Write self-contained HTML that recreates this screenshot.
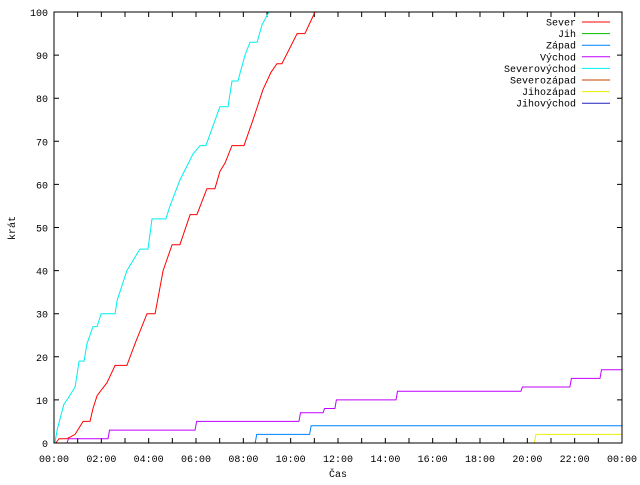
<!DOCTYPE html>
<html><head><meta charset="utf-8"><style>
body{margin:0;background:#fff}
svg text{font-family:"Liberation Mono","DejaVu Sans Mono",monospace;font-size:10px;fill:#000}
</style></head><body>
<svg id="c" width="640" height="480" xmlns="http://www.w3.org/2000/svg">
<rect width="640" height="480" fill="#fff"/>
<g id="ticks"></g>
<g id="series"></g>
<rect x="54" y="12" width="568" height="431" fill="none" stroke="#000" stroke-width="1"/>
<text x="15" y="228" transform="rotate(-90 15 228)" text-anchor="middle">krát</text>
<text x="338" y="477" text-anchor="middle">Čas</text>
<g id="legend"></g>
</svg>
<script>
const seriesNames=["Sever","Jih","Západ","Východ","Severovýchod","Severozápad","Jihozápad","Jihovýchod"];
const seriesColors=["#ff0000","#00c000","#0080ff","#c000ff","#00eeee","#c04000","#eeee00","#2020c0"];
const xTickLabels=["00:00","02:00","04:00","06:00","08:00","10:00","12:00","14:00","16:00","18:00","20:00","22:00","00:00"];
const yTicks=[0,10,20,30,40,50,60,70,80,90,100];
// Sever (polyline, hours/values)
const severHours=[0.08,0.21,0.55,0.89,1.23,1.52,1.65,1.82,2.24,2.58,3.08,3.42,3.93,4.27,4.61,4.99,5.32,5.75,6.04,6.46,6.80,7.01,7.23,7.52,8.03,8.41,8.83,9.17,9.42,9.63,10.27,10.60,11.03];
const severValues=[0,1,1,2,5,5,8,11,14,18,18,23,30,30,40,46,46,53,53,59,59,63,65,69,69,75,82,86,88,88,95,95,100];
// Severovýchod
const svHours=[0.04,0.13,0.42,0.55,0.89,1.06,1.27,1.39,1.65,1.82,1.99,2.58,2.66,3.08,3.63,3.97,4.14,4.73,4.9,5.32,5.87,6.17,6.42,7.01,7.35,7.52,7.77,8.07,8.28,8.58,8.79,9.08];
const svValues=[0,3,9,10,13,19,19,23,27,27,30,30,33,40,45,45,52,52,55,61,67,69,69,78,78,84,84,90,93,93,97,100];
// step series
const vychodHours=[0.55,2.28,5.96,10.35,11.37,11.87,14.45,19.73,21.8,23.07];
const vychodValues=[1,3,5,7,8,10,12,13,15,17];
const zapadHours=[8.5,10.8];
const zapadValues=[2,4];
const jihozapadHours=[20.3];
const jihozapadValues=[2];

const X0=54,X1=622,Y0=443,Y1=12;
const xs=h=>X0+(X1-X0)*h/24;
const ys=v=>Y0-(Y0-Y1)*v/100;
const NS="http://www.w3.org/2000/svg";
function mk(t,a){const e=document.createElementNS(NS,t);for(const k in a)e.setAttribute(k,a[k]);return e;}
const tg=document.getElementById('ticks');
for(let h=0;h<=24;h++){
  const l=mk('path',{d:`M${xs(h)},${Y0}v-5M${xs(h)},${Y1}v5`,stroke:'#000'});
  
  
  tg.appendChild(l);
}
xTickLabels.forEach((s,i)=>{
  const t=mk('text',{x:xs(i*2),y:462,'text-anchor':'middle'});t.textContent=s;
  
  
  tg.appendChild(t);
});
yTicks.forEach(v=>{
  const l=mk('path',{d:`M${X0},${ys(v)}h5M${X1},${ys(v)}h-5`,stroke:'#000'});
  
  
  tg.appendChild(l);
  const t=mk('text',{x:48,y:ys(v)+4,'text-anchor':'end'});t.textContent=v;
  
  
  tg.appendChild(t);
});
const sg=document.getElementById('series');
function poly(hs,vs,color,name){
  const d=hs.map((h,i)=>(i?'L':'M')+xs(h).toFixed(1)+','+ys(vs[i]).toFixed(1)).join('');
  const p=mk('path',{d:d,fill:'none',stroke:color,'stroke-width':1});
  
  
  sg.appendChild(p);
}
function step(hs,vs,color,name){
  let d=`M${xs(hs[0]).toFixed(1)},${ys(0)}`;let prev=0;
  hs.forEach((h,i)=>{d+=`L${xs(h).toFixed(1)},${ys(prev).toFixed(1)}L${(xs(h)+1.5).toFixed(1)},${ys(vs[i]).toFixed(1)}`;prev=vs[i];});
  d+=`L${X1},${ys(prev).toFixed(1)}`;
  const p=mk('path',{d:d,fill:'none',stroke:color,'stroke-width':1});
  
  
  sg.appendChild(p);
}
step(zapadHours,zapadValues,seriesColors[2],'zapad-line');
step(jihozapadHours,jihozapadValues,seriesColors[6],'jihozapad-line');
step(vychodHours,vychodValues,seriesColors[3],'vychod-line');
poly(severHours,severValues,seriesColors[0],'sever-line');
poly(svHours,svValues,seriesColors[4],'severovychod-line');
const lg=document.getElementById('legend');
seriesNames.forEach((n,i)=>{
  const y=22+i*11.6;
  const t=mk('text',{x:576,y:y+3.5,'text-anchor':'end'});t.textContent=n;
  
  
  lg.appendChild(t);
  const l=mk('line',{x1:582,x2:610,y1:y,y2:y,stroke:seriesColors[i]});
  
  
  lg.appendChild(l);
});
</script>
</body></html>
